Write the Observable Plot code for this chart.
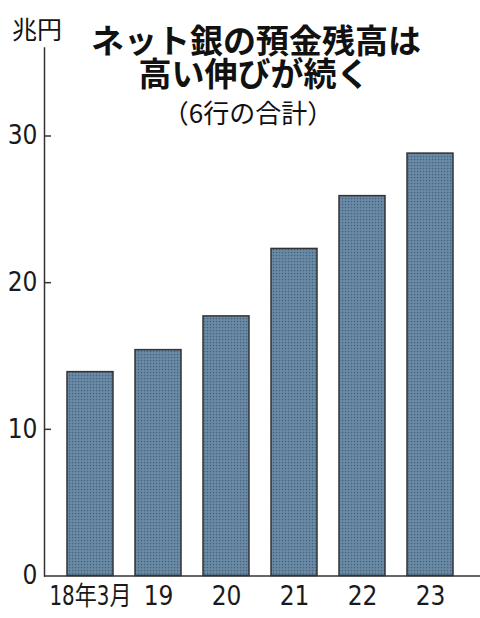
<!DOCTYPE html>
<html>
<head>
<meta charset="utf-8">
<script src="https://cdn.jsdelivr.net/npm/d3@7"></script>
<script src="https://cdn.jsdelivr.net/npm/@observablehq/plot@0.6"></script>
<style>
  html, body { margin: 0; padding: 0; background: #fff; }
  #wrap { position: relative; width: 480px; height: 618px; overflow: hidden; }
  #wrap svg { position: absolute; left: 0; top: 0; }
  .t { position: absolute; left: 40px; width: 432px; text-align: center; color: #111;
       font-family: "Noto Sans CJK JP", sans-serif; white-space: nowrap; }
  .tl { font-size: 33px; font-weight: 700; line-height: 32px; height: 32px; }
  #title1 { top: 23px; }
  #title2 { top: 56px; left: 38px; }
  #sub { top: 97px; font-size: 26px; font-weight: 400; line-height: 30px; left: 32px; }
  #unit { position: absolute; left: 12px; top: 13px; font-size: 25px; line-height: 30px; color: #111;
          font-family: "Noto Sans CJK JP", sans-serif; }
</style>
</head>
<body>
<div id="wrap">
  <div id="unit">兆円</div>
  <div class="t tl" id="title1">ネット銀の預金残高は</div>
  <div class="t tl" id="title2">高い伸びが続く</div>
  <div class="t" id="sub">（6行の合計）</div>
</div>
<script>
const categories = ["18年3月", "19", "20", "21", "22", "23"];
const values = [13.9, 15.4, 17.7, 22.3, 25.9, 28.8];
const yTicks = [0, 10, 20, 30];
const yInnerTicks = [10, 20, 30];

const data = categories.map((c, i) => ({cat: c, v: values[i]}));

const W = 480, H = 618;
const mL = 44, mR = 0, mT = 47.5, mB = 42.5;
const font = '"Liberation Sans Narrow", "DejaVu Sans Condensed", "Noto Sans CJK JP", sans-serif';

const chart = Plot.plot({
  width: W,
  height: H,
  marginLeft: mL,
  marginRight: mR,
  marginTop: mT,
  marginBottom: mB,
  style: {fontFamily: font, fontSize: "26px", color: "#1a1a1a", background: "transparent"},
  x: {domain: categories, paddingInner: 0.32, paddingOuter: 0.338, align: 0.453, label: null},
  y: {domain: [0, 36], label: null},
  marks: [
    Plot.barY(data, {x: "cat", y: "v", fill: "url(#dotpat)", stroke: "#333", strokeWidth: 1.5}),
    Plot.frame({anchor: "left", stroke: "#333", strokeWidth: 1.5}),
    Plot.ruleY([0], {stroke: "#333", strokeWidth: 1.5}),
    Plot.tickY(yInnerTicks, {y: d => d, stroke: "#333", strokeWidth: 1.5, insetRight: W - mL - mR - 7}),
    Plot.axisY(yTicks, {tickSize: 0, tickPadding: 7, fontSize: 26, fill: "#1a1a1a"}),
    Plot.axisX({tickSize: 0, tickPadding: 11, fontSize: 26, fill: "#1a1a1a"})
  ]
});

const ns = "http://www.w3.org/2000/svg";
const defs = document.createElementNS(ns, "defs");
defs.innerHTML = `
  <pattern id="dotpat" patternUnits="userSpaceOnUse" width="3" height="3">
    <rect width="3" height="3" fill="#6586a2"/>
    <rect x="0" y="0" width="1.2" height="1.2" fill="#46627c"/>
    <rect x="1.5" y="1.5" width="1" height="1" fill="#7a98b2"/>
  </pattern>`;
chart.insertBefore(defs, chart.firstChild);

const wrap = document.getElementById("wrap");
wrap.insertBefore(chart, wrap.firstChild);

// condense the CJK x tick label, like the reference's narrow type
d3.select(chart).selectAll('g[aria-label="x-axis tick label"] text').each(function() {
  if (/[年月]/.test(this.textContent)) {
    const len = this.getComputedTextLength();
    this.setAttribute("textLength", (len * 0.85).toFixed(1));
    this.setAttribute("lengthAdjust", "spacingAndGlyphs");
  }
});
</script>
</body>
</html>
